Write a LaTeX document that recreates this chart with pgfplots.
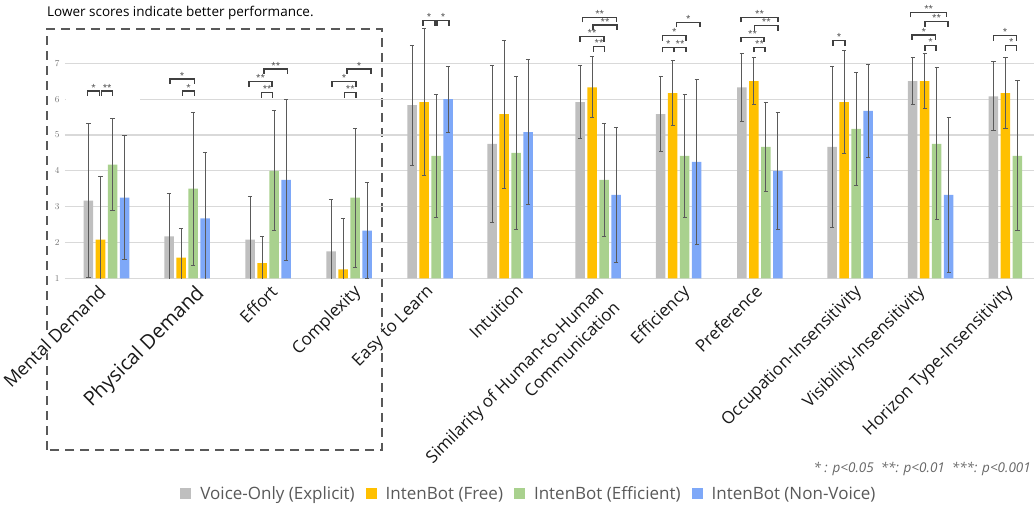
\documentclass[border=0pt]{standalone}
\usepackage{fontspec}
\setmainfont{Open Sans}
\usepackage{pgfplots}
\pgfplotsset{compat=1.18}
\definecolor{cgray}{HTML}{BFBFBF}
\definecolor{corange}{HTML}{FFC000}
\definecolor{cgreen}{HTML}{A9D18E}
\definecolor{cblue}{HTML}{7EA8F8}
\definecolor{errc}{HTML}{5A5A5A}
\definecolor{gridc}{HTML}{D9D9D9}
\definecolor{brc}{HTML}{404040}
\definecolor{legc}{HTML}{595959}
\newcommand\br[4]{%
  \draw[brc, line width=1.1pt] (#1,{508-#3-5}) -- (#1,{508-#3}) -- (#2,{508-#3}) -- (#2,{508-#3-5});
  \node[anchor=south, inner sep=0.5pt, font=\fontsize{8}{8}\selectfont, text=brc] at ({(#1+#2)/2},{508-#3}) {#4};
}
\begin{document}
\begin{tikzpicture}
\useasboundingbox (0,0) rectangle (1034pt,508pt);
\begin{scope}[x=1pt,y=1pt]
\draw[black!65, line width=2.4pt, dash pattern=on 9pt off 6pt] (47,58) rectangle (382,479);
\end{scope}
\begin{axis}[
  at={(65pt,229.7pt)}, anchor=south west,
  scale only axis, width=969pt, height=278.3pt,
  xmin=65, xmax=1034, ymin=1, ymax=8.767,
  ybar, bar width=9.5,
  axis line style={draw=none},
  major tick length=0pt,
  ytick={1,2,3,4,5,6,7},
  ymajorgrids, major grid style={gridc, line width=1.2pt},
  yticklabel style={font=\fontsize{9}{9}\selectfont, text=black!55, xshift=-2pt},
  xtick={105,202,277,360,433,523,603,689,762,861,924,1012.6},
  xticklabels={
    {\fontsize{18}{20}\selectfont Mental Demand},
    {\fontsize{20}{22}\selectfont Physical Demand},
    Effort,
    Complexity,
    Easy to Learn,
    Intuition,
    {Similarity of Human-to-Human\\Communication},
    Efficiency,
    Preference,
    Occupation-Insensitivity,
    Visibility-Insensitivity,
    Horizon Type-Insensitivity},
  xticklabel style={rotate=45, anchor=north east, align=right, text=black!90, inner sep=0pt,
    fill=white, font=\fontsize{17}{23}\selectfont, xshift=-9.1pt, yshift=1.9pt},
  error bars/y dir=both, error bars/y explicit,
  error bars/error bar style={draw=errc, line width=1pt},
  error bars/error mark options={rotate=90, draw=errc, mark size=2.2pt, line width=1pt},
  legend columns=4,
  legend image code/.code={\fill[#1, draw=none] (0pt,-5.5pt) rectangle (11pt,5.5pt);},
  legend style={at={(axis description cs:0.4788,-0.775)}, anchor=center, draw=none, fill=none,
    font=\fontsize{17}{19}\selectfont, text=legc,
    /tikz/every odd column/.append style={column sep=7pt},
    /tikz/every even column/.append style={column sep=9pt}},
]
\addplot[fill=cgray, draw=none, bar shift=-18] coordinates {
 (106.5,3.17) +- (0,2.15) (187,2.17) +- (0,1.2) (268,2.08) +- (0,1.19) (349,1.75) +- (0,1.44)
 (430,5.83) +- (0,1.68) (510,4.75) +- (0,2.2) (598,5.92) +- (0,1.03) (678.7,5.58) +- (0,1.04)
 (759.8,6.33) +- (0,0.95) (850.2,4.67) +- (0,2.25) (930.7,6.5) +- (0,0.65) (1011.3,6.08) +- (0,0.96)};
\addplot[fill=corange, draw=none, bar shift=-6] coordinates {
 (106.5,2.08) +- (0,1.75) (187,1.58) +- (0,0.82) (268,1.42) +- (0,0.75) (349,1.25) +- (0,1.42)
 (430,5.92) +- (0,2.06) (510,5.58) +- (0,2.06) (598,6.33) +- (0,0.85) (678.7,6.17) +- (0,0.9)
 (759.8,6.5) +- (0,0.66) (850.2,5.92) +- (0,1.44) (930.7,6.5) +- (0,0.76) (1011.3,6.17) +- (0,0.98)};
\addplot[fill=cgreen, draw=none, bar shift=6] coordinates {
 (106.5,4.17) +- (0,1.28) (187,3.5) +- (0,2.14) (268,4.0) +- (0,1.68) (349,3.25) +- (0,1.94)
 (430,4.42) +- (0,1.71) (510,4.5) +- (0,2.14) (598,3.75) +- (0,1.58) (678.7,4.42) +- (0,1.71)
 (759.8,4.67) +- (0,1.25) (850.2,5.17) +- (0,1.58) (930.7,4.75) +- (0,2.12) (1011.3,4.42) +- (0,2.1)};
\addplot[fill=cblue, draw=none, bar shift=18] coordinates {
 (106.5,3.25) +- (0,1.73) (187,2.67) +- (0,1.85) (268,3.75) +- (0,2.24) (349,2.33) +- (0,1.34)
 (430,6.0) +- (0,0.92) (510,5.08) +- (0,2.03) (598,3.33) +- (0,1.88) (678.7,4.25) +- (0,2.31)
 (759.8,4.0) +- (0,1.63) (850.2,5.67) +- (0,1.31) (930.7,3.33) +- (0,2.17)};
\legend{Voice-Only (Explicit),IntenBot (Free),IntenBot (Efficient),IntenBot (Non-Voice)}
\end{axis}
\begin{scope}[x=1pt,y=1pt]
\fill[white] (66,404) rectangle (140,413);
\node[anchor=west, inner sep=0pt, font=\fontsize{13.5}{15}\selectfont] at (47,495) {Lower scores indicate better performance.};
\node[anchor=east, inner sep=0pt, font=\fontsize{13.5}{15}\selectfont\itshape, text=black!60] at (1031,39) {* : p<0.05\ \ **: p<0.01\ \ ***: p<0.001};
% significance brackets
\br{87.7}{99.3}{91}{*}
\br{101.7}{112.7}{91}{**}
\br{170}{194.3}{79}{*}
\br{182.7}{194.3}{91}{*}
\br{249}{272}{81.7}{**}
\br{264}{287.7}{69}{**}
\br{261.7}{272.7}{92.7}{**}
\br{332}{356}{81.7}{*}
\br{347}{371}{69}{*}
\br{344.7}{356}{92.7}{**}
\br{423}{435}{20.7}{*}
\br{437}{449}{20.7}{*}
\br{582.7}{616.7}{17.3}{**}
\br{593}{617}{25}{**}
\br{580}{604}{36.7}{**}
\br{593.7}{604.3}{46.7}{**}
\br{676.7}{700}{22.3}{*}
\br{662.7}{686}{35.7}{*}
\br{662.7}{674}{47.3}{*}
\br{674}{686}{47.3}{**}
\br{741}{778}{17.3}{**}
\br{754.7}{778}{25.7}{**}
\br{741}{764}{37.3}{**}
\br{754}{765}{47.3}{**}
\br{833}{845}{40.7}{*}
\br{910.7}{946.7}{12.3}{**}
\br{925}{948}{21.7}{**}
\br{912}{935.7}{35}{*}
\br{925}{936}{45.7}{*}
\br{993.3}{1016.7}{35.7}{*}
\br{1005.7}{1016.7}{45.7}{*}
\end{scope}
\end{tikzpicture}
\end{document}
